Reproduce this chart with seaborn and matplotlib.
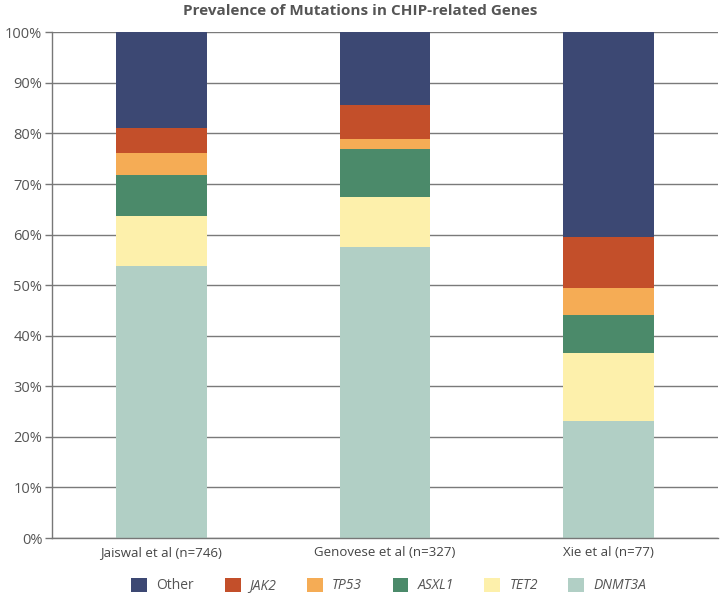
import matplotlib
matplotlib.use("Agg")
import matplotlib.pyplot as plt
import seaborn as sns
import pandas as pd
import numpy as np
from matplotlib.patches import Patch

studies = ["Jaiswal et al (n=746)", "Genovese et al (n=327)", "Xie et al (n=77)"]
genes = ["DNMT3A", "TET2", "ASXL1", "TP53", "JAK2", "Other"]
dnmt3a = [53.8, 57.5, 23.2]
tet2 = [9.8, 10.0, 13.3]
asxl1 = [8.2, 9.4, 7.6]
tp53 = [4.3, 2.0, 5.3]
jak2 = [5.0, 6.8, 10.2]
other = [18.9, 14.3, 40.4]
colors = {"DNMT3A": "#b1cfc5", "TET2": "#fdf0ab", "ASXL1": "#4b8a6a",
          "TP53": "#f5ac55", "JAK2": "#c34f2a", "Other": "#3c4873"}

sns.set_theme(style="white")
plt.rcParams['font.family'] = ['Open Sans', 'DejaVu Sans']

series = [dnmt3a, tet2, asxl1, tp53, jak2, other]
cum = np.cumsum(np.array(series), axis=0)
df = pd.DataFrame({"study": studies})
for g, c in zip(genes, cum):
    df[g] = c

fig = plt.figure(figsize=(7.2, 5.97), dpi=100)
ax = fig.add_axes([0.0722, 0.0988, 0.925, 0.847])

for g in reversed(genes):
    sns.barplot(data=df, x="study", y=g, color=colors[g], width=0.406,
                ax=ax, saturation=1, edgecolor="none", linewidth=0, zorder=2)

ax.set_ylim(0, 100)
ax.set_xlim(-0.487, 2.487)
ax.set_yticks(np.arange(0, 101, 10))
ax.set_yticklabels([f"{v}%" for v in range(0, 101, 10)], color="#555555", fontsize=10.5)
ax.tick_params(axis="x", length=0, labelsize=9.5, labelcolor="#444444", pad=6)
ax.tick_params(axis="y", length=5, width=1, color="#777777", direction="out", left=True, pad=2)
ax.set_xlabel("")
ax.set_ylabel("")
ax.yaxis.grid(True, color="#7a7a7a", linewidth=1, zorder=0)
ax.set_axisbelow(True)
for s in ["top", "right"]:
    ax.spines[s].set_visible(False)
ax.spines["left"].set_color("#777777")
ax.spines["bottom"].set_color("#777777")
ax.spines["left"].set_linewidth(1)
ax.spines["bottom"].set_linewidth(1)

fig.text(0.5, 0.981, "Prevalence of Mutations in CHIP-related Genes", ha="center",
         va="center", fontsize=11, fontweight="bold", color="#555555")

order = ["Other", "JAK2", "TP53", "ASXL1", "TET2", "DNMT3A"]
handles = [Patch(facecolor=colors[g], edgecolor="none") for g in order]
leg = fig.legend(handles, order, loc="center", bbox_to_anchor=(0.540, 0.019), ncol=6,
                 frameon=False, fontsize=10, handlelength=1.15, handleheight=1.15,
                 columnspacing=2.2, handletextpad=0.65)
for t in leg.get_texts():
    t.set_color("#555555")
    if t.get_text() != "Other":
        t.set_fontstyle("italic")

fig.savefig("out.png", dpi=100)
